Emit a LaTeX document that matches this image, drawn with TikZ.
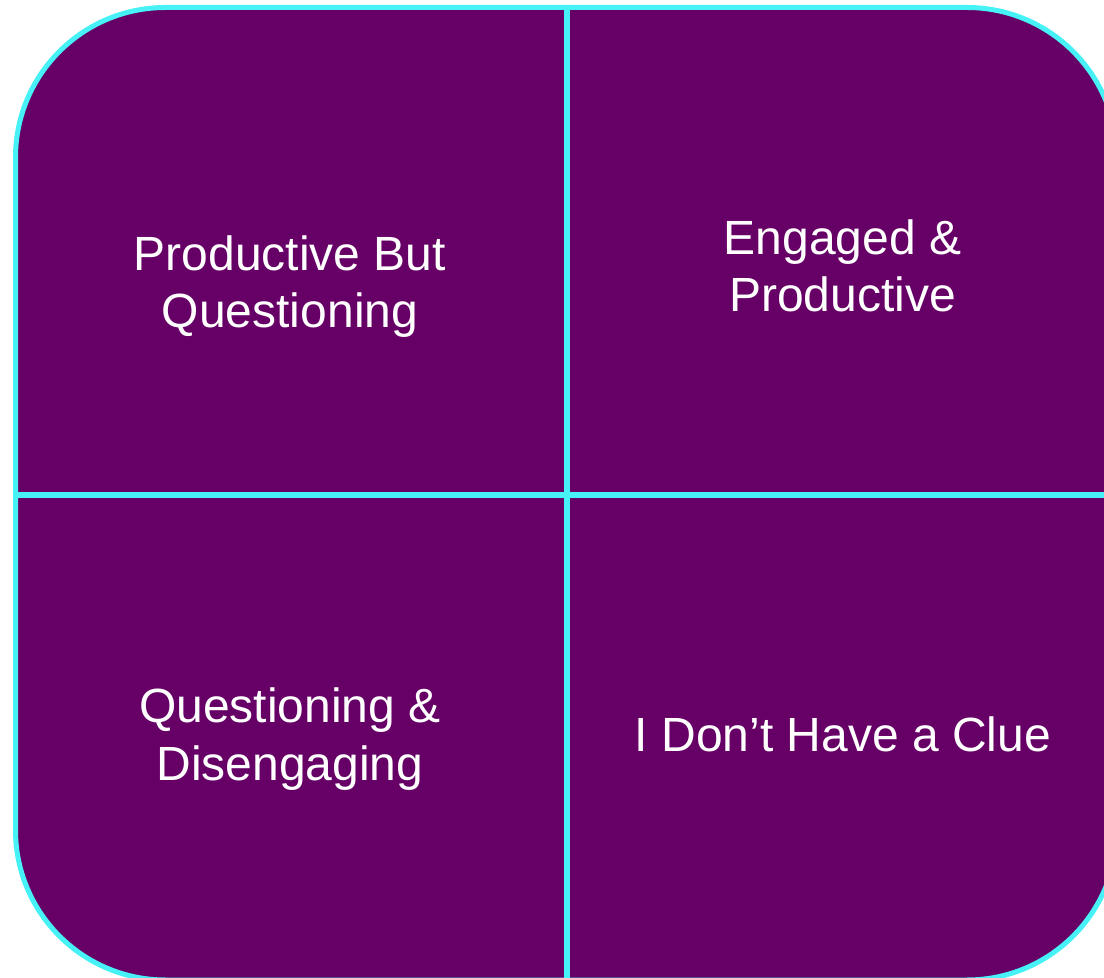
\documentclass[tikz,border=0pt]{standalone}
\usepackage{fontspec}
\setmainfont{Liberation Sans}
\usepackage{xcolor}
\usepackage{tikz}
\definecolor{plum}{HTML}{660066}
\definecolor{aqua}{HTML}{46F2F5}
\definecolor{text}{HTML}{FFFFFF}
\tikzset{
  gridBox/.style={fill=plum, draw=aqua, line width=2.5pt, rounded corners=75pt},
  gridLine/.style={draw=aqua, line width=3pt},
  gridLabel/.style={text=text, font=\fontsize{24}{28.8}\selectfont, align=center, anchor=base}
}

\begin{document}
\begin{tikzpicture}[x=0.5pt, y=-0.5pt]
  \useasboundingbox (0,0) rectangle (1104,978);
  \clip (0,0) rectangle (1104,978);

  % the board runs past the right and bottom edges
  \path[gridBox] (15.5,7.5) rectangle (1117,980);

  \coordinate (T) at (567,7.5);
  \coordinate (B) at (567,980);
  \coordinate (L) at (15.5,495.5);
  \coordinate (R) at (1117,495.5);

  \draw[gridLine] (T) -- (B);
  \draw[gridLine] (L) -- (R);

  % base anchor sits on the last line
  \node[gridLabel] (pbq) at (290,328) {Productive But\\Questioning};
  \node[gridLabel] (engaged) at (842.5,311.7) {Engaged \&\\Productive};
  \node[gridLabel] (disengaging) at (290,780) {Questioning \&\\Disengaging};
  \node[gridLabel] (clue) at (843,751.7) {I Don’t Have a Clue};
\end{tikzpicture}
\end{document}
